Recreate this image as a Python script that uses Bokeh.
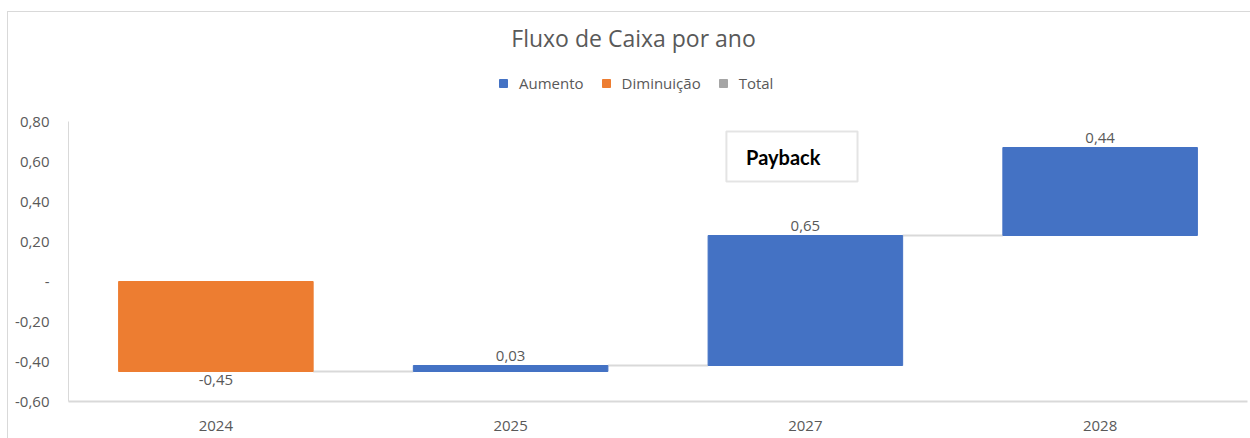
import numpy as np
from bokeh.plotting import figure
from bokeh.models import (Range1d, FixedTicker, Legend, LegendItem, Label,
                          BoxAnnotation, ColumnDataSource)
from bokeh.core.properties import value
from bokeh.embed import file_html
from bokeh.resources import INLINE

# ---- data ----
years = ["2024", "2025", "2027", "2028"]
changes = [-0.45, 0.03, 0.65, 0.44]
y_ticks = [-0.6, -0.4, -0.2, 0.0, 0.2, 0.4, 0.6, 0.8]
y_tick_labels = ["-0,60", "-0,40", "-0,20", "-", "0,20", "0,40", "0,60", "0,80"]
legend_labels = ["Aumento", "Diminuição", "Total"]
series_colors = ["#4472C4", "#ED7D31", "#A5A5A5"]
title_text = "Fluxo de Caixa por ano"
note_text = "Payback"

FONT = "Open Sans"
TXT = "#595959"
GRID = "#D9D9D9"

# ---- derived waterfall geometry ----
ch = np.array(changes)
ends = np.cumsum(ch)
starts = ends - ch
xs = np.arange(len(years)) + 0.5
bar_w = 0.66
kind = ["Aumento" if v >= 0 else "Diminuição" for v in ch]
fmt = [("%.2f" % v).replace(".", ",") for v in ch]

p = figure(frame_width=1179, frame_height=389,
           min_border_left=60, min_border_right=3, min_border_top=0, min_border_bottom=37,
           x_range=Range1d(0, len(years)), y_range=Range1d(-0.6, 1.345),
           output_backend="svg", toolbar_location=None,
           margin=(11, 0, 0, 7),
           styles={"border-top": "1px solid #D9D9D9", "border-left": "1px solid #D9D9D9"})
p.outline_line_color = None
p.xgrid.visible = False
p.ygrid.visible = False
p.background_fill_color = "white"
p.border_fill_color = "white"

# axes
p.xaxis.ticker = FixedTicker(ticks=list(xs))
p.xaxis.major_label_overrides = {float(x): y for x, y in zip(xs, years)}
p.xaxis.major_tick_line_color = None
p.xaxis.minor_tick_line_color = None
p.xaxis.axis_line_color = GRID
p.xaxis.axis_line_width = 2
p.xaxis.major_label_standoff = 13
p.xaxis.major_label_text_font = FONT
p.xaxis.major_label_text_font_size = "15px"
p.xaxis.major_label_text_color = TXT

p.yaxis.ticker = FixedTicker(ticks=y_ticks)
p.yaxis.major_label_overrides = {float(t): l for t, l in zip(y_ticks, y_tick_labels)}
p.yaxis.bounds = (y_ticks[0], y_ticks[-1])
p.yaxis.major_tick_line_color = None
p.yaxis.minor_tick_line_color = None
p.yaxis.axis_line_color = GRID
p.yaxis.axis_line_width = 1
p.yaxis.major_label_standoff = 13
p.yaxis.major_label_text_font = FONT
p.yaxis.major_label_text_font_size = "15px"
p.yaxis.major_label_text_color = TXT

# connectors
p.segment(x0=xs[:-1] + bar_w / 2, x1=xs[1:] - bar_w / 2, y0=ends[:-1], y1=ends[:-1],
          line_color=GRID, line_width=2)

renderers = {}
for name, col in zip(legend_labels, series_colors):
    idx = [i for i, k in enumerate(kind) if k == name]
    if idx:
        data = dict(x=[xs[i] for i in idx],
                    top=[max(starts[i], ends[i]) for i in idx],
                    bottom=[min(starts[i], ends[i]) for i in idx])
    else:
        data = dict(x=[xs[0]], top=[np.nan], bottom=[np.nan])
    src = ColumnDataSource(data)
    renderers[name] = p.vbar(x="x", top="top", bottom="bottom", width=bar_w, source=src,
                             fill_color=col, line_color=col)

# data labels
pos = [i for i in range(len(ch)) if ch[i] >= 0]
neg = [i for i in range(len(ch)) if ch[i] < 0]
p.text(x=[xs[i] for i in pos], y=[ends[i] for i in pos], text=[fmt[i] for i in pos],
       text_align="center", text_baseline="bottom", y_offset=-5,
       text_font=value(FONT), text_font_size="15px", text_color=TXT)
p.text(x=[xs[i] for i in neg], y=[ends[i] for i in neg], text=[fmt[i] for i in neg],
       text_align="center", text_baseline="top", y_offset=3,
       text_font=value(FONT), text_font_size="15px", text_color=TXT)

# title
p.add_layout(Label(x=1.917, y=1.22, text=title_text, text_align="center",
                   text_baseline="middle", text_font=FONT, text_font_size="23px",
                   text_color=TXT))

# payback note
p.add_layout(BoxAnnotation(left=2.232, right=2.677, top=0.75, bottom=0.5,
                           fill_color="white", fill_alpha=1.0,
                           line_color="#A6A6A6", line_width=2))
p.add_layout(Label(x=2.425, y=0.625, text=note_text, text_align="center",
                   text_baseline="middle", text_font="Lato",
                   text_font_style="bold", text_font_size="20px", text_color="black"))

# legend
items = [LegendItem(label=n, renderers=[renderers[n]]) for n in legend_labels]
legend = Legend(items=items, orientation="horizontal", location=(430, 308),
                glyph_width=10, glyph_height=10, label_standoff=11, spacing=17,
                padding=0, margin=0, border_line_color=None, background_fill_alpha=0,
                label_text_font=FONT, label_text_font_size="15px", label_text_color=TXT,
                label_height=20)
p.add_layout(legend, "center")

open("out.html", "w").write(file_html(p, INLINE))
